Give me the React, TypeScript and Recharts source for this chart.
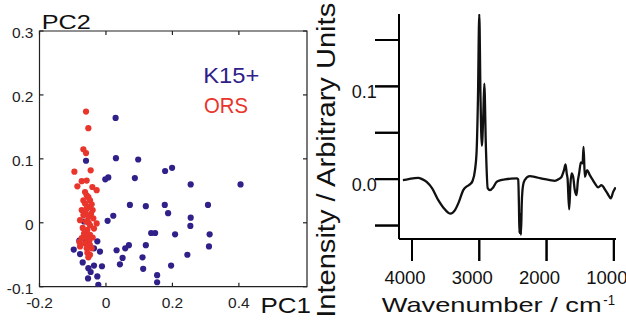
import React from 'react';
import {
  ScatterChart, Scatter, XAxis, YAxis, ReferenceArea, ReferenceLine, Legend, LineChart, Line, Label,
} from 'recharts';

// ---------- Left panel: PCA scores ----------
const k15Points: [number, number][] = [
  [0.029, 0.164], [0.030, 0.101], [0.097, 0.099], [-0.060, 0.097], [0.199, 0.086], [0.178, 0.081],
  [0.087, 0.070], [0.007, 0.071], [-0.002, 0.068], [0.255, 0.060], [0.405, 0.060], [0.072, 0.028],
  [0.120, 0.026], [0.177, 0.028], [0.307, 0.028], [0.187, 0.015], [0.022, 0.011], [0.005, 0.003],
  [0.255, 0.008], [0.254, -0.005], [0.136, -0.016], [0.148, -0.016], [0.208, -0.018], [0.312, -0.018],
  [-0.080, -0.028], [-0.026, -0.029], [0.069, -0.035], [0.120, -0.035], [0.310, -0.037], [-0.097, -0.042],
  [0.032, -0.043], [0.058, -0.040], [-0.036, -0.040], [-0.018, -0.045], [0.245, -0.050], [-0.078, -0.049],
  [0.050, -0.055], [0.110, -0.054], [-0.070, -0.062], [0.042, -0.065], [-0.053, -0.071], [-0.036, -0.067],
  [-0.012, -0.068], [0.196, -0.067], [0.112, -0.072], [-0.046, -0.077], [-0.054, -0.087], [-0.026, -0.084],
  [0.154, -0.082], [0.154, -0.093], [-0.023, -0.097], [-0.066, 0.002], [-0.060, -0.030],
];
const orsPoints: [number, number][] = [
  [-0.060, 0.174], [-0.053, 0.148], [-0.068, 0.115], [-0.060, 0.109], [-0.095, 0.080], [-0.046, 0.082],
  [-0.073, 0.065], [-0.058, 0.066], [-0.086, 0.057], [-0.041, 0.056], [-0.028, 0.051], [-0.063, 0.048],
  [-0.058, 0.043], [-0.053, 0.040], [-0.068, 0.035], [-0.048, 0.035], [-0.063, 0.030], [-0.043, 0.029],
  [-0.050, 0.025], [-0.073, 0.020], [-0.058, 0.022], [-0.040, 0.020], [-0.062, 0.015], [-0.045, 0.014],
  [-0.068, 0.012], [-0.053, 0.009], [-0.038, 0.007], [-0.078, 0.004], [-0.060, 0.002], [-0.052, 0.000],
  [-0.028, -0.001], [-0.048, -0.004], [-0.070, -0.008], [-0.056, -0.011], [-0.036, -0.009], [-0.066, -0.017],
  [-0.048, -0.019], [-0.060, -0.020], [-0.073, -0.024], [-0.056, -0.026], [-0.040, -0.023], [-0.050, -0.028],
  [-0.080, -0.030], [-0.063, -0.032], [-0.048, -0.035], [-0.078, -0.037], [-0.058, -0.040], [-0.043, -0.040],
  [-0.056, -0.047], [-0.048, -0.050], [-0.053, -0.054],
];
const pcXTicks = [-0.2, 0, 0.2, 0.4];
const pcYTicks = [-0.1, 0, 0.1, 0.2, 0.3];
const pcXDomain = [-0.2, 0.605];
const pcYDomain = [-0.1, 0.3];

// ---------- Right panel: loading spectrum ----------
const wavenumbers = [
  4135, 4050, 3960, 3906, 3850, 3782, 3700, 3609, 3530, 3461, 3430, 3361, 3300, 3238, 3180, 3139, 3100,
  3064, 3039, 3020, 3000, 2982, 2962, 2940, 2925, 2902, 2875, 2842, 2793, 2742, 2680, 2619, 2530, 2445,
  2421, 2410, 2403, 2393, 2381, 2368, 2350, 2325, 2248, 2150, 2025, 1950, 1876, 1820, 1777, 1740, 1718,
  1700, 1688, 1664, 1645, 1628, 1605, 1580, 1554, 1535, 1516, 1490, 1465, 1450, 1431, 1415, 1397, 1357,
  1320, 1282, 1233, 1183, 1160, 1134, 1090, 1045, 1010, 972,
];
const intensity = [
  -0.001, 0.0, 0.0012, 0.0014, 0.0, -0.003, -0.01, -0.0226, -0.031, -0.0362, -0.0372, -0.0333, -0.024,
  -0.0118, -0.0075, -0.0057, -0.002, 0.0097, 0.031, 0.085, 0.178, 0.09, 0.036, 0.07, 0.103, 0.036,
  -0.0097, -0.0118, -0.0089, -0.0029, -0.001, -0.0003, 0.0005, 0.0008, -0.0003, -0.03, -0.058, -0.038,
  -0.06, -0.025, -0.007, -0.001, 0.0032, 0.002, 0.0, -0.001, -0.0018, 0.0, 0.0025, 0.01, 0.0158, 0.006,
  0.0008, -0.0326, -0.005, 0.0061, 0.0025, -0.012, -0.0172, -0.002, 0.0061, 0.018, 0.0169, 0.0347,
  0.0025, 0.006, 0.0097, 0.0043, 0.0, -0.0046, -0.0089, -0.0065, -0.008, -0.011, -0.016, -0.0208,
  -0.0137, -0.0089,
];
const wnTicks = [4000, 3000, 2000, 1000];
const wnDomain = [968, 4193];
const intensityTicks = [-0.05, 0, 0.05, 0.1, 0.15];
const intensityTickLabels = ['', '0.0', '', '0.1', ''];
const intensityDomain = [-0.0645, 0.178];

const k15Data = k15Points.map(([x, y]) => ({ x, y }));
const orsData = orsPoints.map(([x, y]) => ({ x, y }));
const spectrum = wavenumbers.map((wn, i) => ({ wn, v: intensity[i] }));

const FONT = "'Liberation Sans', Arial, Helvetica, sans-serif";
const BLUE = '#2f2189';
const RED = '#e9352b';
const INK = '#000000';

// left panel plot frame (px)
const L = { w: 320, h: 320, left: 39.5, top: 31, right: 307, bottom: 286.7 };
// right panel (chart placed at page x=300)
const R = { x0: 300, w: 326, h: 320, left: 99, top: 14, right: 316, bottom: 239 };
const AX = 1; // axis band thickness
const Y_TICK_LEN = 24;
const X_TICK_LEN = 22;

// outward tick-mark lengths of the spectrum panel, expressed in data units
const wnPerPx = (wnDomain[1] - wnDomain[0]) / (R.right - R.left);
const intPerPx = (intensityDomain[1] - intensityDomain[0]) / (R.bottom - R.top);
const yTickOuterWn = wnDomain[1] + Y_TICK_LEN * wnPerPx;
const xTickOuterInt = intensityDomain[0] - X_TICK_LEN * intPerPx;

const fmtPC = (v: number) => (Math.abs(v) < 1e-9 ? '0' : String(Number(v.toFixed(2))));

const PCYTick = (p: any) => {
  const { x, y, payload } = p;
  return (
    <g>
      <line x1={L.left} x2={L.left + 4} y1={y} y2={y} stroke="#222" strokeWidth={1.2} />
      <line x1={L.right - 4} x2={L.right} y1={y} y2={y} stroke="#222" strokeWidth={1.2} />
      <text x={x} y={y + 1.5} textAnchor="end" dominantBaseline="central" fontFamily={FONT} fontSize={15.5} fill="#222">
        {fmtPC(payload.value)}
      </text>
    </g>
  );
};

const PCXTick = (p: any) => {
  const { x, payload } = p;
  return (
    <g>
      <line x1={x} x2={x} y1={L.bottom} y2={L.bottom - 4} stroke="#222" strokeWidth={1.2} />
      <line x1={x} x2={x} y1={L.top} y2={L.top + 4} stroke="#222" strokeWidth={1.2} />
      <text x={x} y={L.bottom + 21} textAnchor="middle" fontFamily={FONT} fontSize={15.5} fill="#222">
        {fmtPC(payload.value)}
      </text>
    </g>
  );
};

const SpecYTick = (p: any) => {
  const { x, y, index } = p;
  const lbl = intensityTickLabels[index] ?? '';
  return (
    <g>
      <line x1={x} x2={x + Y_TICK_LEN} y1={y} y2={y} stroke={INK} strokeWidth={2} />
      <text x={x + 1.7} y={y + 6} textAnchor="end" dominantBaseline="central" fontFamily={FONT} fontSize={18} fill="#111">
        {lbl}
      </text>
    </g>
  );
};

const SpecXTick = (p: any) => {
  const { x, y, payload } = p;
  return (
    <g>
      <line x1={x} x2={x} y1={y - X_TICK_LEN} y2={y} stroke={INK} strokeWidth={2} />
      <text x={x - 7} y={y + 22.5} textAnchor="middle" fontFamily={FONT} fontSize={18.5} fill="#111">
        {payload.value}
      </text>
    </g>
  );
};

const legendWidths = [56, 44];
const legendBaselines = [21.3, 50.7];
const legendX = [3.3, 4];

const PCLegend = (props: any) => {
  const payload = props.payload || [];
  return (
    <svg width={80} height={60} style={{ display: 'block' }}>
      {payload.map((e: any, i: number) => (
        <text
          key={i}
          x={legendX[i]}
          y={legendBaselines[i]}
          fontFamily={FONT}
          fontSize={21.5}
          fill={e.color}
          textLength={legendWidths[i]}
          lengthAdjust="spacingAndGlyphs"
        >
          {e.value}
        </text>
      ))}
    </svg>
  );
};

export default function App() {
  return (
    <div style={{ position: 'absolute', left: 0, top: 0, width: 626, height: 320, background: '#fff' }}>
      <div style={{ position: 'absolute', left: 0, top: 0 }}>
        <ScatterChart
          width={L.w}
          height={L.h}
          margin={{ top: L.top, left: L.left - AX, right: L.w - L.right, bottom: L.h - L.bottom - AX }}
        >
          <XAxis
            type="number"
            dataKey="x"
            domain={pcXDomain}
            ticks={pcXTicks}
            interval={0}
            allowDataOverflow
            height={AX}
            axisLine={false}
            tickLine={false}
            tickSize={0}
            tickMargin={0}
            tick={(p: any) => <PCXTick {...p} />}
          >
            <Label
              content={() => (
                <text x={260.5} y={312.5} fontFamily={FONT} fontSize={22} fill="#111" textLength={50.5} lengthAdjust="spacingAndGlyphs">
                  PC1
                </text>
              )}
            />
          </XAxis>
          <YAxis
            type="number"
            dataKey="y"
            domain={pcYDomain}
            ticks={pcYTicks}
            interval={0}
            allowDataOverflow
            width={AX}
            axisLine={false}
            tickLine={false}
            tickSize={0}
            tickMargin={6}
            tick={(p: any) => <PCYTick {...p} />}
          >
            <Label
              content={() => (
                <text x={41.7} y={28.5} fontFamily={FONT} fontSize={20} fill="#111" textLength={49} lengthAdjust="spacingAndGlyphs">
                  PC2
                </text>
              )}
            />
          </YAxis>
          <ReferenceArea
            x1={pcXDomain[0]}
            x2={pcXDomain[1]}
            y1={pcYDomain[0]}
            y2={pcYDomain[1]}
            fill="none"
            fillOpacity={0}
            stroke="#222"
            strokeWidth={1.2}
            ifOverflow="visible"
          />
          <Legend
            layout="vertical"
            align="center"
            verticalAlign="middle"
            content={(p: any) => <PCLegend {...p} />}
            wrapperStyle={{ position: 'absolute', left: 200, top: 62, width: 80, height: 60 }}
          />
          <Scatter
            name="K15+"
            data={k15Data}
            fill={BLUE}
            isAnimationActive={false}
            shape={(p: any) => <circle cx={p.cx} cy={p.cy} r={3.1} fill={BLUE} />}
          />
          <Scatter
            name="ORS"
            data={orsData}
            fill={RED}
            isAnimationActive={false}
            shape={(p: any) => <circle cx={p.cx} cy={p.cy} r={3.1} fill={RED} />}
          />
        </ScatterChart>
      </div>
      <div style={{ position: 'absolute', left: R.x0, top: 0 }}>
        <LineChart
          width={R.w}
          height={R.h}
          data={spectrum}
          margin={{ top: R.top, left: R.left - AX, right: R.w - R.right, bottom: R.h - R.bottom - AX }}
        >
          <XAxis
            type="number"
            dataKey="wn"
            domain={wnDomain}
            reversed
            ticks={wnTicks}
            interval={0}
            allowDataOverflow
            height={AX}
            axisLine={{ stroke: INK, strokeWidth: 2 }}
            tickLine={false}
            tickSize={X_TICK_LEN}
            tickMargin={0}
            tick={(p: any) => <SpecXTick {...p} />}
          >
            <Label
              content={() => (
                <g>
                  <text x={81.7} y={311.7} fontFamily={FONT} fontSize={21} fill="#111" textLength={220} lengthAdjust="spacingAndGlyphs">
                    Wavenumber / cm
                  </text>
                  <text x={303.3} y={305} fontFamily={FONT} fontSize={14} fill="#111" textLength={11.7} lengthAdjust="spacingAndGlyphs">
                    -1
                  </text>
                </g>
              )}
            />
          </XAxis>
          <YAxis
            type="number"
            domain={intensityDomain}
            ticks={intensityTicks}
            interval={0}
            allowDataOverflow
            width={AX}
            axisLine={{ stroke: INK, strokeWidth: 2 }}
            tickLine={false}
            tickSize={Y_TICK_LEN}
            tickMargin={0}
            tick={(p: any) => <SpecYTick {...p} />}
          >
            <Label
              content={() => (
                <text
                  x={35}
                  y={160.3}
                  transform="rotate(-90 35 160.3)"
                  textAnchor="middle"
                  fontFamily={FONT}
                  fontSize={25}
                  fill="#111"
                  textLength={315}
                  lengthAdjust="spacingAndGlyphs"
                >
                  Intensity / Arbitrary Units
                </text>
              )}
            />
          </YAxis>
          {intensityTicks.map((t) => (
            <ReferenceLine
              key={`yt${t}`}
              segment={[{ x: yTickOuterWn, y: t }, { x: wnDomain[1], y: t }]}
              stroke={INK}
              strokeWidth={2}
              ifOverflow="visible"
            />
          ))}
          {wnTicks.map((t) => (
            <ReferenceLine
              key={`xt${t}`}
              segment={[{ x: t, y: intensityDomain[0] }, { x: t, y: xTickOuterInt }]}
              stroke={INK}
              strokeWidth={2}
              ifOverflow="visible"
            />
          ))}
          <Line
            type="monotone"
            dataKey="v"
            stroke="#111"
            strokeWidth={2.3}
            dot={false}
            activeDot={false}
            isAnimationActive={false}
            strokeLinejoin="round"
          />
        </LineChart>
      </div>
    </div>
  );
}
